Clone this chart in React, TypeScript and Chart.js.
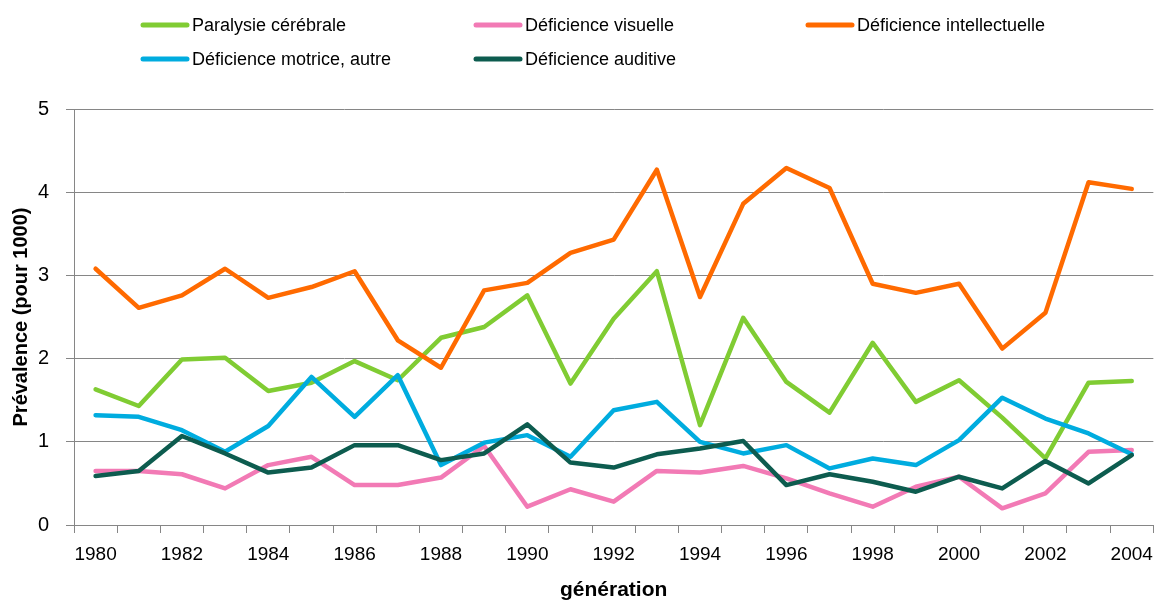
import React, { useEffect, useRef } from "react";
import { Chart, registerables } from "chart.js";

Chart.register(...registerables);

const years = [
  "1980", "1981", "1982", "1983", "1984", "1985", "1986", "1987", "1988", "1989",
  "1990", "1991", "1992", "1993", "1994", "1995", "1996", "1997", "1998", "1999",
  "2000", "2001", "2002", "2003", "2004",
];

const paralysie = [1.63, 1.43, 1.99, 2.01, 1.61, 1.71, 1.97, 1.74, 2.25, 2.38, 2.76, 1.70, 2.48, 3.05, 1.20, 2.49, 1.72, 1.35, 2.19, 1.48, 1.74, 1.29, 0.80, 1.71, 1.73];
const visuelle = [0.65, 0.65, 0.61, 0.44, 0.72, 0.82, 0.48, 0.48, 0.57, 0.95, 0.22, 0.43, 0.28, 0.65, 0.63, 0.71, 0.56, 0.38, 0.22, 0.46, 0.58, 0.20, 0.38, 0.88, 0.90];
const intellectuelle = [3.08, 2.61, 2.76, 3.08, 2.73, 2.86, 3.05, 2.22, 1.89, 2.82, 2.91, 3.27, 3.43, 4.27, 2.74, 3.86, 4.29, 4.05, 2.90, 2.79, 2.90, 2.12, 2.55, 4.12, 4.04];
const motrice = [1.32, 1.30, 1.14, 0.88, 1.19, 1.78, 1.30, 1.80, 0.72, 0.99, 1.08, 0.82, 1.38, 1.48, 1.00, 0.86, 0.96, 0.68, 0.80, 0.72, 1.02, 1.53, 1.28, 1.10, 0.85];
const auditive = [0.59, 0.65, 1.07, 0.86, 0.63, 0.69, 0.96, 0.96, 0.78, 0.86, 1.21, 0.75, 0.69, 0.85, 0.92, 1.01, 0.48, 0.61, 0.52, 0.40, 0.58, 0.44, 0.77, 0.50, 0.84];

const seriesLabels = [
  "Paralysie cérébrale",
  "Déficience visuelle",
  "Déficience intellectuelle",
  "Déficience motrice, autre",
  "Déficience auditive",
];
const seriesColors = ["#80cc33", "#f27ab5", "#ff6a00", "#00acdf", "#0d5c4f"];
const seriesData = [paralysie, visuelle, intellectuelle, motrice, auditive];

const yTitle = "Prévalence (pour 1000)";
const xTitle = "génération";

const FONT = "'Liberation Sans', Arial, sans-serif";

const legendPlugin = {
  id: "customLegend",
  afterDraw(chart: any) {
    const ctx = chart.ctx;
    const colX = [141, 474, 806];
    const rowY = [25, 59];
    ctx.save();
    chart.data.datasets.forEach((ds: any, i: number) => {
      const col = i % 3;
      const row = Math.floor(i / 3);
      const x = colX[col];
      const y = rowY[row];
      ctx.strokeStyle = ds.borderColor;
      ctx.lineWidth = 5;
      ctx.lineCap = "round";
      ctx.beginPath();
      ctx.moveTo(x + 2, y);
      ctx.lineTo(x + 46, y);
      ctx.stroke();
      ctx.fillStyle = "#000";
      ctx.font = `18px ${FONT}`;
      ctx.textBaseline = "middle";
      ctx.textAlign = "left";
      ctx.fillText(ds.label, x + 51, y + 1);
    });
    ctx.restore();
  },
};

export default function App() {
  const ref = useRef<HTMLCanvasElement | null>(null);

  useEffect(() => {
    if (!ref.current) return;
    const n = seriesData.length;
    const chart = new Chart(ref.current, {
      type: "line",
      data: {
        labels: years,
        datasets: seriesData.map((d, i) => ({
          label: seriesLabels[i],
          data: d,
          borderColor: seriesColors[i],
          backgroundColor: seriesColors[i],
          borderWidth: 4.5,
          pointRadius: 0,
          tension: 0,
          borderCapStyle: "round",
          borderJoinStyle: "round",
          order: n - 1 - i,
        })),
      },
      options: {
        animation: false,
        responsive: false,
        devicePixelRatio: 1,
        layout: { padding: { top: 109, right: 6, left: 0, bottom: 0 } },
        plugins: {
          legend: { display: false },
          tooltip: { enabled: false },
        },
        scales: {
          x: {
            type: "category",
            offset: true,
            grid: {
              offset: true,
              drawOnChartArea: false,
              drawTicks: true,
              tickLength: 8,
              color: "#868686",
            },
            border: { color: "#868686", width: 1 },
            ticks: {
              autoSkip: false,
              maxRotation: 0,
              minRotation: 0,
              color: "#000",
              padding: 10,
              font: { family: FONT, size: 19 },
              callback: (_v: any, i: number) => (i % 2 === 0 ? years[i] : ""),
            },
            title: {
              display: true,
              text: xTitle,
              color: "#000",
              font: { family: FONT, size: 21, weight: "bold", lineHeight: 1.0 },
              padding: { top: 0, bottom: 0 },
            },
            afterFit: (s: any) => {
              s.height = 76;
            },
          },
          y: {
            min: 0,
            max: 5,
            ticks: {
              stepSize: 1,
              color: "#000",
              padding: 17,
              font: { family: FONT, size: 20 },
            },
            grid: {
              color: "#868686",
              lineWidth: 1,
              tickLength: 8,
            },
            border: { color: "#868686", width: 1 },
            title: {
              display: true,
              text: yTitle,
              color: "#000",
              font: { family: FONT, size: 20, weight: "bold" },
              padding: { top: 9, bottom: 0 },
            },
            afterFit: (s: any) => {
              s.width = 74;
            },
          },
        },
      },
      plugins: [legendPlugin],
    } as any);
    return () => chart.destroy();
  }, []);

  return (
    <div style={{ position: "absolute", left: 0, top: 0, width: 1163, height: 601, background: "#fff" }}>
      <canvas ref={ref} width={1163} height={601} style={{ width: 1163, height: 601, display: "block" }} />
    </div>
  );
}
